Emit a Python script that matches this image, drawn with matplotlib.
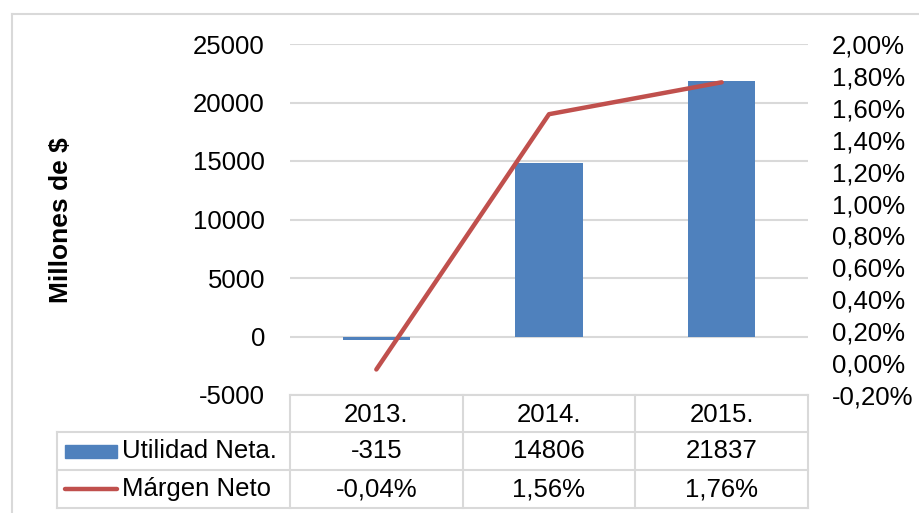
import matplotlib
matplotlib.use('Agg')
import matplotlib.pyplot as plt
import matplotlib.transforms as mtransforms
from matplotlib.lines import Line2D
from matplotlib.patches import Rectangle
from matplotlib.ticker import FuncFormatter

years = ['2013.', '2014.', '2015.']
utilidad = [-315, 14806, 21837]
margen = [-0.04, 1.56, 1.76]
left_ticks = [-5000, 0, 5000, 10000, 15000, 20000, 25000]
right_ticks = [-0.2, 0.0, 0.2, 0.4, 0.6, 0.8, 1.0, 1.2, 1.4, 1.6, 1.8, 2.0]

BLUE = '#4F81BD'
RED = '#C0504D'
GRID = '#D9D9D9'
FS = 18.5

plt.rcParams['font.family'] = ['Liberation Sans', 'DejaVu Sans']
plt.rcParams['axes.unicode_minus'] = False

W, H = 919, 513
fig = plt.figure(figsize=(W / 100, H / 100), dpi=100)


def fx(px):
    return px / W


def fy(py):
    return 1 - py / H


# plot area in pixel coords
L, R, T, B = 290, 808, 44, 395
ax = fig.add_axes([fx(L), fy(B), fx(R) - fx(L), fy(T) - fy(B)])
ax2 = ax.twinx()

x = list(range(len(years)))
ax.bar(x, utilidad, width=0.39, color=BLUE, zorder=2)
ax.set_xlim(-0.5, len(years) - 0.5)
ax.set_ylim(-5000, 25000)
ax.set_yticks(left_ticks)
ax.set_xticks([])
ax.yaxis.grid(True, color=GRID, lw=1.5, zorder=0)
ax.set_axisbelow(True)
ax.tick_params(axis='y', length=0, pad=18, labelsize=FS)
for s in ax.spines.values():
    s.set_visible(False)

ax2.plot(x, margen, color=RED, lw=3.2, solid_capstyle='round', zorder=3)
ax2.set_ylim(-0.2, 2.0)
ax2.set_yticks(right_ticks)
ax2.yaxis.set_major_formatter(FuncFormatter(lambda v, p: f'{v:.2f}'.replace('.', ',') + '%'))
ax2.tick_params(axis='y', length=0, pad=17, labelsize=FS)
for s in ax2.spines.values():
    s.set_visible(False)

ax.set_ylabel('Millones de $', fontsize=FS + 0.5, fontweight='bold')
ax.yaxis.set_label_coords((73 - L) / (R - L), (B - 220) / (B - T))

# data table below the plot
trans = mtransforms.blended_transform_factory(ax.transData, ax.transAxes)


def ay(py):
    return (B - py) / (B - T)


def axx(px):
    return (px - L) / (R - L)


rows = [395, 432, 470, 508]
label_left = 57
lkw = dict(color=GRID, lw=1.5, clip_on=False, transform=ax.transAxes)
# horizontal lines
ax.add_line(Line2D([0, 1], [ay(rows[0])] * 2, **lkw))
for r in rows[1:]:
    ax.add_line(Line2D([axx(label_left), 1], [ay(r)] * 2, **lkw))
# vertical lines
ax.add_line(Line2D([axx(label_left)] * 2, [ay(rows[1]), ay(rows[3])], **lkw))
for i in range(len(years) + 1):
    xb = axx(L + i * (R - L) / len(years))
    ax.add_line(Line2D([xb, xb], [ay(rows[0]), ay(rows[3])], **lkw))

row_mid = [(rows[k] + rows[k + 1]) / 2 for k in range(3)]
for i, yr in enumerate(years):
    ax.text(i, ay(row_mid[0] + 1), yr, transform=trans, ha='center', va='center', fontsize=FS, clip_on=False)
    ax.text(i, ay(row_mid[1]), str(utilidad[i]), transform=trans, ha='center', va='center', fontsize=FS, clip_on=False)
    ax.text(i, ay(row_mid[2]), f'{margen[i]:.2f}'.replace('.', ',') + '%', transform=trans,
            ha='center', va='center', fontsize=FS, clip_on=False)

# legend keys inside the table
ax.add_patch(Rectangle((axx(65), ay(458)), axx(117) - axx(65), ay(445) - ay(458),
                       transform=ax.transAxes, color=BLUE, clip_on=False))
ax.add_line(Line2D([axx(65), axx(117)], [ay(row_mid[2])] * 2, color=RED, lw=3.2,
                   solid_capstyle='round', transform=ax.transAxes, clip_on=False))
ax.text(axx(122), ay(row_mid[1]), 'Utilidad Neta.', transform=ax.transAxes, ha='left', va='center',
        fontsize=FS, clip_on=False)
ax.text(axx(122), ay(row_mid[2]), 'Márgen Neto', transform=ax.transAxes, ha='left', va='center',
        fontsize=FS, clip_on=False)

# outer chart frame (top and left edges visible)
fig.add_artist(Line2D([fx(12), 1], [fy(14), fy(14)], color=GRID, lw=1.5))
fig.add_artist(Line2D([fx(12), fx(12)], [fy(14), 0], color=GRID, lw=1.5))

fig.savefig('out.png', dpi=100)
